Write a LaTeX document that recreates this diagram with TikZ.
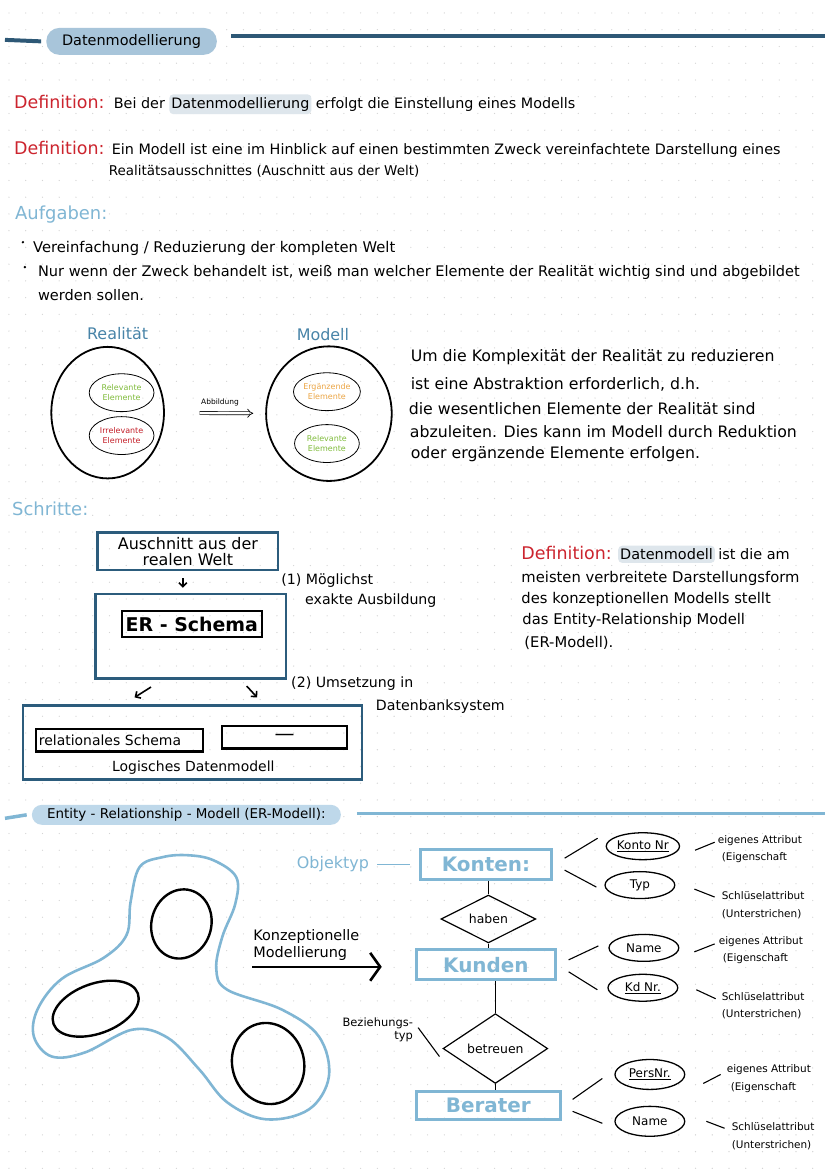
\documentclass[tikz,border=0pt]{standalone}
\usepackage{fontspec}
\setmainfont{DejaVu Sans}
\definecolor{defred}{RGB}{204,36,46}
\definecolor{headblue}{RGB}{46,88,118}
\definecolor{pillblue}{RGB}{168,197,218}
\definecolor{erpill}{RGB}{190,216,234}
\definecolor{softblue}{RGB}{128,182,212}
\definecolor{setblue}{RGB}{72,132,168}
\definecolor{boxblue}{RGB}{44,92,124}
\definecolor{markgray}{RGB}{222,230,236}
\definecolor{elemgreen}{RGB}{128,188,60}
\definecolor{elemorange}{RGB}{236,166,70}
\definecolor{elemred}{RGB}{196,30,40}
\definecolor{dotgray}{RGB}{212,212,212}
\usetikzlibrary{arrows.meta,positioning,shapes.geometric,calc}

\begin{document}
\begin{tikzpicture}[x=1pt,y=-1pt,
    body/.style={inner sep=1pt,anchor=west,font=\fontsize{14.4}{16}\selectfont},
    para/.style={body,font=\fontsize{15.8}{17}\selectfont},
    deflabel/.style={body,text=defred,font=\fontsize{17.5}{19}\selectfont},
    marked/.style={body,fill=markgray,rounded corners=4pt,inner xsep=2pt,inner ysep=3pt},
    section/.style={anchor=west,inner sep=1pt,text=softblue,font=\fontsize{18}{20}\selectfont},
    headline/.style={line width=4pt,headblue},
    erline/.style={line width=3.5pt,softblue},
    setlabel/.style={text=setblue,font=\fontsize{16}{18}\selectfont},
    setring/.style={ellipse,draw,line width=1.8pt,inner sep=0pt},
    elem/.style={ellipse,draw,line width=0.8pt,inner sep=0pt,minimum width=65,minimum height=38,align=center,font=\fontsize{8}{9.5}\selectfont},
    stepbox/.style={draw=boxblue,line width=2.6pt,inner sep=0pt,align=center,font=\fontsize{16}{16}\selectfont},
    blackbox/.style={draw,line width=2.2pt,inner sep=0pt},
    steplabel/.style={body,font=\fontsize{14.2}{16}\selectfont},
    smallarrow/.style={-{Straight Barb[length=4pt,width=8pt]},line width=1.6pt},
    entity/.style={draw=softblue,line width=3pt,text=softblue,inner sep=0pt,font=\fontsize{20}{22}\selectfont\bfseries},
    relation/.style={diamond,draw,line width=1.2pt,inner sep=0pt,font=\fontsize{12.5}{14}\selectfont},
    attr/.style={ellipse,draw,line width=1.3pt,inner sep=0pt,minimum width=70,minimum height=27,font=\fontsize{12}{13}\selectfont},
    link/.style={line width=1.1pt},
    note/.style={anchor=west,inner sep=1pt,align=left,font=\fontsize{10.5}{17.5}\selectfont},
  ]
\fill[white] (0,0) rectangle (828,1169);
\foreach \r in {0,...,69}
  \draw[dotgray,line width=1.3pt,line cap=round,dash pattern=on 0pt off 16.8pt] (9,{13+16.8*\r}) -- (828,{13+16.8*\r});
\useasboundingbox (0,0) rectangle (828,1169);

\node[fill=pillblue,rounded corners=13pt,minimum width=171,minimum height=27,inner sep=0pt,font=\fontsize{14.5}{16}\selectfont] (title) at (132,41.5) {Datenmodellierung};
\draw[headline] ([xshift=-5pt]title.west) -- (5,40);
\draw[headline] (232,36) -- (828,36);

\node[deflabel] (defa) at (13,102) {Definition:};
\node[body,base right=7pt of defa] (defatext) {Bei der};
\node[marked,base right=3pt of defatext] (defamark) {Datenmodellierung};
\node[body,base right=3pt of defamark] (defarest) {erfolgt die Einstellung eines Modells};

\node[deflabel] (defb) at (13,148) {Definition:};
\node[body,base right=5pt of defb] (defbtext) {Ein Modell ist eine im Hinblick auf einen bestimmten Zweck vereinfachtete Darstellung eines};
\node[body,font=\fontsize{13.5}{15}\selectfont] (defbcont) at (108,172) {Realitätsausschnittes (Auschnitt aus der Welt)};

\node[section] (tasks) at (14,215) {Aufgaben:};
\fill (23,243) circle (1.3);
\node[body,font=\fontsize{14.8}{16}\selectfont] (taska) at (32,249) {Vereinfachung / Reduzierung der kompleten Welt};
\fill (25,268) circle (1.3);
\node[body,font=\fontsize{14.6}{16}\selectfont] (taskb) at (37,273) {Nur wenn der Zweck behandelt ist, weiß man welcher Elemente der Realität wichtig sind und abgebildet};
\node[body,font=\fontsize{14.6}{16}\selectfont] (taskc) at (37,296) {werden sollen.};

\node[setlabel] (reallabel) at (118,335) {Realität};
\node[setlabel] (modellabel) at (324,336) {Modell};
\node[setring,minimum width=113,minimum height=132] (realset) at (108,414) {};
\node[elem,text=elemgreen] (realrel) at (122,394) {Relevante\\Elemente};
\node[elem,text=elemred] (realirr) at (122,437) {Irrelevante\\Elemente};
\node[setring,minimum width=126,minimum height=135] (modelset) at (330,415) {};
\node[elem,text=elemorange] (modeladd) at (328,393) {Ergänzende\\Elemente};
\node[elem,text=elemgreen] (modelrel) at (328,445) {Relevante\\Elemente};
\draw[double,double distance=2.4pt,line width=0.7pt,-{Implies},shorten <=35pt,shorten >=12pt] (realset) -- (modelset)
  node[pos=0.55,above=3pt,font=\fontsize{7.5}{8}\selectfont] (maplabel) {Abbildung};

\node[para] (parta) at (411,358) {Um die Komplexität der Realität zu reduzieren};
\node[para] (partb) at (411,386) {ist eine Abstraktion erforderlich, d.h.};
\node[para] (partc) at (409,410) {die wesentlichen Elemente der Realität sind};
\node[para] (partd) at (410,433) {abzuleiten. Dies kann im Modell durch Reduktion};
\node[para] (parte) at (411,456) {oder ergänzende Elemente erfolgen.};

\node[section] (steps) at (11,510) {Schritte:};
\node[stepbox,minimum width=181,minimum height=38] (cut) at (188.5,553) {Auschnitt aus der\\realen Welt};
\node[stepbox,minimum width=191,minimum height=85] (erbox) at (191.5,638.5) {};
\node[blackbox,minimum width=141,minimum height=26,font=\fontsize{19}{20}\selectfont\bfseries] (erschema) at (192.5,626) {ER - Schema};
\node[stepbox,minimum width=340,minimum height=74] (logbox) at (193,745) {};
\node[blackbox,text width=162pt,inner xsep=3pt,minimum height=23,align=left,font=\fontsize{14}{15}\selectfont] (relschema) at (120,742.5) {relationales Schema};
\node[blackbox,minimum width=125,minimum height=23,font=\fontsize{20}{20}\selectfont] (otherschema) at (285.5,739.5) {—};
\node[font=\fontsize{14}{16}\selectfont] (logmodel) at (194,770) {Logisches Datenmodell};
\draw[smallarrow] ([xshift=-5pt,yshift=-7pt]cut.south) -- ([xshift=-8pt,yshift=5pt]erbox.north);
\draw[smallarrow] ([xshift=-40pt,yshift=-7pt]erbox.south) -- ([xshift=-58pt,yshift=7pt]logbox.north);
\draw[smallarrow] ([xshift=56pt,yshift=-6pt]erbox.south) -- ([xshift=65pt,yshift=7pt]logbox.north);
\node[steplabel] (stepone) at (281,583) {(1) Möglichst};
\node[steplabel] (steponeb) at (305,603) {exakte Ausbildung};
\node[steplabel] (steptwo) at (291,686) {(2) Umsetzung in};
\node[steplabel] (steptwob) at (376,709) {Datenbanksystem};

\node[deflabel] (defc) at (522,555) {Definition:};
\node[marked,font=\fontsize{14.5}{16}\selectfont,base right=5pt of defc] (defcmark) {Datenmodell};
\node[body,font=\fontsize{14.5}{16}\selectfont,base right=2pt of defcmark] (defcrest) {ist die am};
\node[body,font=\fontsize{14.8}{16}\selectfont] (defcb) at (522,580) {meisten verbreitete Darstellungsform};
\node[body,font=\fontsize{14.8}{16}\selectfont] (defcc) at (522,601) {des konzeptionellen Modells stellt};
\node[body,font=\fontsize{14.8}{16}\selectfont] (defcd) at (523,622) {das Entity-Relationship Modell};
\node[body,font=\fontsize{14.8}{16}\selectfont] (defce) at (525,645) {(ER-Modell).};

\node[fill=erpill,rounded corners=10pt,minimum width=310,minimum height=20,inner sep=0pt,font=\fontsize{13.5}{15}\selectfont] (erhead) at (187,817.5) {Entity - Relationship - Modell (ER-Modell):};
\draw[erline] ([xshift=-5pt]erhead.west) -- (5,821);
\draw[erline] (358,816) -- (828,816);

\draw[softblue,line width=2.6pt] plot[smooth cycle,tension=0.6] coordinates {
  (163,860) (140,870) (131,905) (127,938) (104,961) (62,982) (38,1012) (34,1040)
  (52,1060) (85,1056) (133,1033) (168,1041) (200,1073) (228,1106) (267,1123)
  (310,1113) (330,1080) (320,1040) (283,1013) (228,993) (217,972) (223,940)
  (236,907) (237,880) (214,863) (188,858)};
\draw[line width=2.4pt,rotate around={-15:(182,927)}] (182,927) ellipse [x radius=30,y radius=35];
\draw[line width=2.4pt,rotate around={20:(96,1012)}] (96,1012) ellipse [x radius=45,y radius=25];
\draw[line width=2.4pt,rotate around={15:(269,1067)}] (269,1067) ellipse [x radius=36,y radius=41];

\node[anchor=west,inner sep=1pt,align=left,font=\fontsize{14.5}{17}\selectfont] (concept) at (253,948) {Konzeptionelle\\Modellierung};
\coordinate (concepttip) at (383,970);
\draw[line width=2.6pt,-{Straight Barb[length=10pt,width=28pt]}] (concept.west |- concepttip) -- (concepttip);

\node[text=softblue,font=\fontsize{16}{18}\selectfont] (objtype) at (334,867) {Objektyp};
\node[entity,minimum width=131,minimum height=30] (konten) at (487.5,867) {Konten:};
\draw[softblue,line width=1pt,shorten <=5pt,shorten >=9pt] (objtype) -- (konten);
\node[relation,aspect=2,minimum width=95,minimum height=48] (haben) at (490,922) {haben};
\node[entity,minimum width=139,minimum height=30] (kunden) at (487.5,968) {Kunden};
\node[relation,aspect=1.5,minimum width=105,minimum height=70] (betreuen) at (497,1052) {betreuen};
\node[entity,minimum width=144,minimum height=28] (berater) at (490,1109) {Berater};
\draw[link] (haben.north) -- (haben.north |- konten.south);
\draw[link] (haben.south) -- (haben.south |- kunden.north);
\draw[link] (betreuen.north) -- (betreuen.north |- kunden.south);
\draw[link] (betreuen.south) -- (betreuen.south |- berater.north);
\node[align=right,inner sep=1pt,font=\fontsize{11.5}{13}\selectfont] (reltype) at (379,1033) {Beziehungs-\\typ};
\draw[link] ([xshift=4pt,yshift=2pt]reltype.east) -- ([xshift=-3pt,yshift=-8pt]betreuen.west);

\node[attr] (kontonr) at (645,849) {\underline{Konto Nr}};
\node[attr] (typ) at (642,888) {Typ};
\node[attr] (kname) at (646,951) {Name};
\node[attr] (kdnr) at (645,991) {\underline{Kd Nr.}};
\node[attr,minimum height=30] (persnr) at (652,1078) {\underline{PersNr.}};
\node[attr,minimum height=30] (bname) at (652,1125) {Name};
\draw[link] ([xshift=12pt,yshift=6pt]konten.east) -- ([xshift=-8pt,yshift=8pt]kontonr.west);
\draw[link] ([xshift=12pt,yshift=-6pt]konten.east) -- ([xshift=-8pt,yshift=-2pt]typ.west);
\draw[link] ([xshift=12pt,yshift=5pt]kunden.east) -- ([xshift=-10pt,yshift=2pt]kname.west);
\draw[link] ([xshift=12pt,yshift=-7pt]kunden.east) -- ([xshift=-10pt,yshift=-2pt]kdnr.west);
\draw[link] ([xshift=11pt,yshift=6pt]berater.east) -- ([xshift=-12pt,yshift=-4pt]persnr.west);
\draw[link] ([xshift=11pt,yshift=-6pt]berater.east) -- ([xshift=-12pt,yshift=-2pt]bname.west);

\node[note] (notea) at (719,852) {eigenes Attribut\\\hspace*{4pt}(Eigenschaft};
\node[note] (noteb) at (723,908) {Schlüselattribut\\(Unterstrichen)};
\node[note] (notec) at (720,953) {eigenes Attribut\\\hspace*{4pt}(Eigenschaft};
\node[note] (noted) at (723,1009) {Schlüselattribut\\(Unterstrichen)};
\node[note] (notee) at (728,1082) {eigenes Attribut\\\hspace*{4pt}(Eigenschaft};
\node[note] (notef) at (733,1140) {Schlüselattribut\\(Unterstrichen)};
\draw[link] ([xshift=15pt,yshift=-4pt]kontonr.east) -- ([xshift=-2pt,yshift=7pt]notea.west);
\draw[link] ([xshift=19pt,yshift=-4pt]typ.east) -- ([xshift=-6pt,yshift=8pt]noteb.west);
\draw[link] ([xshift=15pt,yshift=-4pt]kname.east) -- ([xshift=-3pt,yshift=6pt]notec.west);
\draw[link] ([xshift=18pt,yshift=-2pt]kdnr.east) -- ([xshift=-5pt,yshift=7pt]noted.west);
\draw[link] ([xshift=18pt,yshift=-9pt]persnr.east) -- ([xshift=-5pt,yshift=4pt]notee.west);
\draw[link] ([xshift=21pt]bname.east) -- ([xshift=-6pt,yshift=8pt]notef.west);
\end{tikzpicture}
\end{document}
